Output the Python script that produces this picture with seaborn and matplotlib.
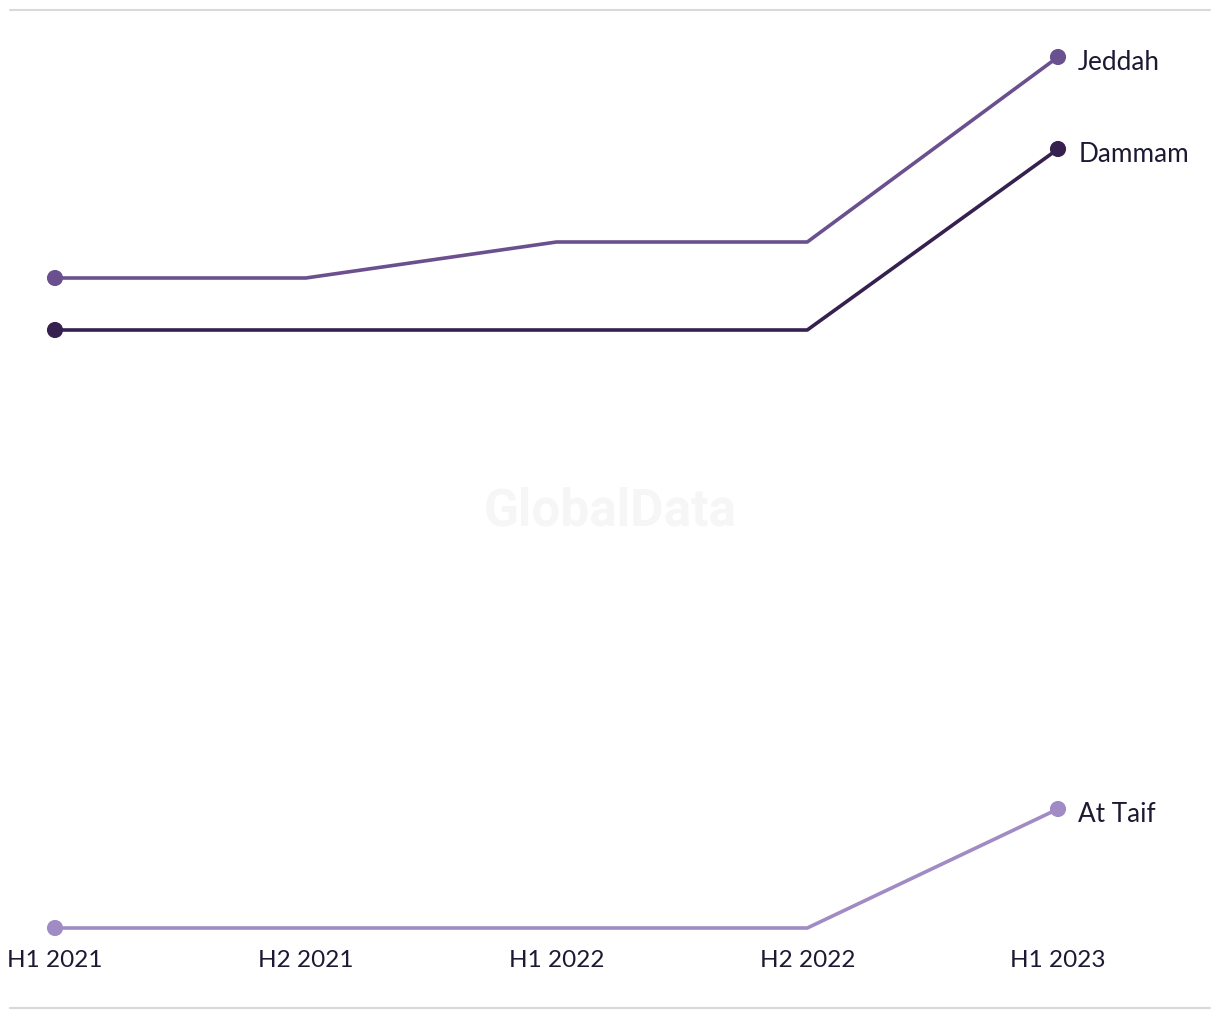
import numpy as np
import pandas as pd
import matplotlib
matplotlib.use('Agg')
import matplotlib.pyplot as plt
import seaborn as sns
from matplotlib.lines import Line2D

# Données (échelle relative)
periods = ["H1 2021", "H2 2021", "H1 2022", "H2 2022", "H1 2023"]
cities  = ["Jeddah", "Dammam", "At Taif"]
jeddah  = [65.0, 65.0, 68.6, 68.6, 87.1]
dammam  = [59.8, 59.8, 59.8, 59.8, 77.9]
at_taif = [0.0, 0.0, 0.0, 0.0, 11.9]
colors  = ["#6b5090", "#35204f", "#a08bc4"]

TXT = "#1c1a33"

df = pd.DataFrame({
    "period": periods * 3,
    "x": list(range(len(periods))) * 3,
    "value": jeddah + dammam + at_taif,
    "city": sum([[c] * len(periods) for c in cities], []),
})
palette = dict(zip(cities, colors))

sns.set_theme(style="white")
plt.rcParams['font.family'] = ['Lato', 'DejaVu Sans']

fig = plt.figure(figsize=(12.2, 10.2), dpi=100)
W, H = 1220, 1020
x0, x1 = 55, 1058
y0, y1 = 929, 58
ax = fig.add_axes([x0 / W, (H - y0) / H, (x1 - x0) / W, (y0 - y1) / H])

sns.lineplot(data=df, x="x", y="value", hue="city", palette=palette,
             lw=2.6, legend=False, ax=ax)
for ln in ax.get_lines():
    ln.set_clip_on(False)

ends = df[df["x"].isin([0, len(periods) - 1])]
sns.scatterplot(data=ends, x="x", y="value", hue="city", palette=palette,
                s=135, edgecolor="none", legend=False, ax=ax, clip_on=False,
                zorder=5)

last = len(periods) - 1
for c, vals in zip(cities, [jeddah, dammam, at_taif]):
    ax.annotate(c, (last, vals[-1]), xytext=(14.5, -3), textcoords="offset points",
                ha="left", va="center", fontsize=18.8, color=TXT)

ax.set_xlim(0, last)
ax.set_ylim(0, 87.1)
ax.set_xticks(range(len(periods)))
ax.set_xticklabels(periods, fontsize=17.5, color=TXT)
ax.tick_params(axis="x", length=0, pad=15)
ax.set_yticks([])
ax.set_xlabel("")
ax.set_ylabel("")
sns.despine(ax=ax, left=True, bottom=True)

# filigrane
fig.text(610 / W, 1 - 512 / H, "GlobalData", ha="center", va="center",
         fontsize=37, fontweight="bold", color="#f6f6f6",
         family=["Roboto", "DejaVu Sans"], zorder=0)

# lignes de séparation haut / bas
for yy in (11, 1009):
    fig.add_artist(Line2D([10 / W, 1210 / W], [1 - yy / H, 1 - yy / H],
                          color="#d9d9d9", lw=1.5))

fig.savefig("out.png", dpi=100)
plt.close(fig)
